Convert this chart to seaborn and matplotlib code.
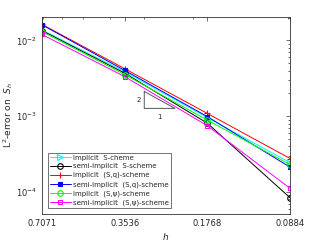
import matplotlib
matplotlib.use("Agg")
import matplotlib.pyplot as plt
import seaborn as sns
import pandas as pd
import numpy as np
from matplotlib.ticker import FixedLocator, FixedFormatter, LogLocator, NullFormatter

h = [0.7071, 0.3536, 0.1768, 0.0884]
h_labels = ["0.7071", "0.3536", "0.1768", "0.0884"]

implicit_S = [0.0138, 0.00388, 0.00096, 0.000245]
semi_S = [0.0135, 0.00371, 0.00081, 0.0000841]
implicit_Sq = [0.0163, 0.00425, 0.00109, 0.000277]
semi_Sq = [0.0161, 0.00403, 0.00099, 0.000213]
implicit_Spsi = [0.0131, 0.00355, 0.00089, 0.00023]
semi_Spsi = [0.0120, 0.00334, 0.00075, 0.000112]

names = [
    "implicit  S-cheme",
    "semi-implicit  S-scheme",
    "implicit  (S,q)-scheme",
    "semi-implicit  (S,q)-scheme",
    "implicit  (S,ψ)-scheme",
    "semi-implicit  (S,ψ)-scheme",
]
series = [implicit_S, semi_S, implicit_Sq, semi_Sq, implicit_Spsi, semi_Spsi]
colors = ["#00ffff", "#000000", "#ff0000", "#0000ff", "#00ff00", "#ff00ff"]
markers = [">", "o", "+", "s", "o", "s"]
filled = [False, False, True, True, False, False]

tri_x = [0.300, 0.232]
tri_ybottom = 0.00127

sns.set_style("white")
plt.rcParams["font.family"] = ["DejaVu Sans"]
plt.rcParams["mathtext.fontset"] = "dejavusans"

fig = plt.figure(figsize=(3.21, 2.41), dpi=100)
ax = fig.add_axes([42 / 321, 1 - 214 / 241, 248 / 321, 197 / 241])

for name, vals, c, m, f in zip(names, series, colors, markers, filled):
    df = pd.DataFrame({"h": h, "err": vals})
    sns.lineplot(data=df, x="h", y="err", ax=ax, color=c, marker=m,
                 markersize=4 if m != "s" else 3.5, linewidth=0.7,
                 markerfacecolor=(c if f else "none"), markeredgecolor=c,
                 markeredgewidth=0.8, label=name)

ax.set_xscale("log")
ax.set_yscale("log")
ax.set_xlim(0.7071, 0.0884)
ax.set_ylim(10 ** -4.29, 10 ** -1.69)

ax.xaxis.set_major_locator(FixedLocator(h))
ax.xaxis.set_major_formatter(FixedFormatter(h_labels))
ax.xaxis.set_minor_locator(LogLocator(base=10, subs=np.arange(2, 10)))
ax.xaxis.set_minor_formatter(NullFormatter())
ax.yaxis.set_major_locator(LogLocator(base=10))
ax.yaxis.set_minor_locator(LogLocator(base=10, subs=np.arange(2, 10)))
ax.yaxis.set_minor_formatter(NullFormatter())

ax.tick_params(which="both", direction="in", top=True, right=True,
               labelsize=6, color="#333333", width=0.5)
ax.tick_params(which="major", length=3)
ax.tick_params(which="minor", length=1.5)
for s in ax.spines.values():
    s.set_linewidth(0.6)
    s.set_color("#333333")

# slope triangle
x1, x2 = tri_x
ytop = tri_ybottom * (x1 / x2) ** 2
ax.plot([x1, x1, x2, x1], [ytop, tri_ybottom, tri_ybottom, ytop],
        color="#555555", linewidth=0.7)
ax.text(x1 * 1.03, np.sqrt(ytop * tri_ybottom), "2", fontsize=5,
        ha="right", va="center")
ax.text(np.sqrt(x1 * x2), tri_ybottom * 0.85, "1", fontsize=5,
        ha="center", va="top")

ax.set_xlabel(r"$h$", fontsize=6.5, labelpad=2)
ax.set_ylabel(r"L$^2$-error on  $S_h$", fontsize=6.5, labelpad=1)

leg = ax.legend(loc="lower left", fontsize=5, frameon=True, fancybox=False,
                edgecolor="#333333", handlelength=3.0, borderpad=0.3,
                labelspacing=0.38, handletextpad=0.3, borderaxespad=0,
                bbox_to_anchor=(6 / 248, 6 / 197))
leg.get_frame().set_linewidth(0.6)

fig.savefig("out.png", dpi=100)
